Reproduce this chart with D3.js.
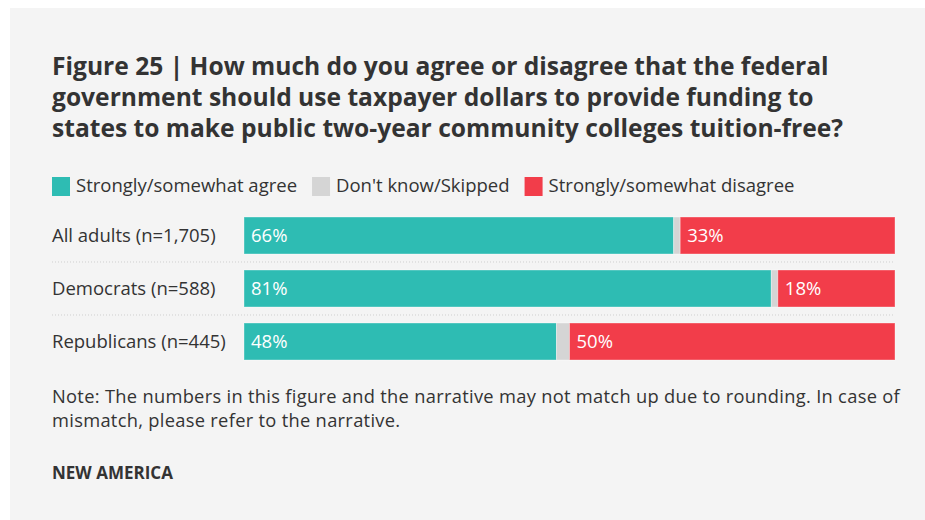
<!DOCTYPE html>
<html>
<head>
<meta charset="utf-8">
<script src="https://cdn.jsdelivr.net/npm/d3@7/dist/d3.min.js"></script>
<style>
  html, body { margin: 0; padding: 0; background: #ffffff; }
  svg { display: block; }
  text { font-family: "Open Sans", sans-serif; }
</style>
</head>
<body>
<svg id="chart" width="925" height="520"></svg>
<script>
// Survey results: share of respondents by response, per group
const groups = ["All adults (n=1,705)", "Democrats (n=588)", "Republicans (n=445)"];
const agree = [66, 81, 48];
const dontKnow = [1, 1, 2];
const disagree = [33, 18, 50];

const seriesKeys = ["agree", "dontKnow", "disagree"];
const seriesLabels = ["Strongly/somewhat agree", "Don't know/Skipped", "Strongly/somewhat disagree"];
const seriesColors = ["#2ebcb3", "#d5d5d5", "#f23d4a"];

const titleLines = [
  "Figure 25 | How much do you agree or disagree that the federal",
  "government should use taxpayer dollars to provide funding to",
  "states to make public two-year community colleges tuition-free?"
];
const noteLines = [
  "Note: The numbers in this figure and the narrative may not match up due to rounding. In case of",
  "mismatch, please refer to the narrative."
];
const sourceLabel = "NEW AMERICA";

const rows = groups.map((g, i) => ({ group: g, agree: agree[i], dontKnow: dontKnow[i], disagree: disagree[i] }));

const svg = d3.select("#chart");
const textColor = "#333333";

// panel background
svg.append("rect").attr("x", 10).attr("y", 8).attr("width", 915).attr("height", 512).attr("fill", "#f4f4f4");

// title
svg.append("g").selectAll("text").data(titleLines).join("text")
  .attr("x", 52).attr("y", (d, i) => 75 + i * 31)
  .attr("font-size", 24.6).attr("font-weight", 700).attr("fill", textColor)
  .text(d => d);

// legend
const legend = svg.append("g").attr("transform", "translate(52,177)");
let lx = 0;
seriesLabels.forEach((lab, i) => {
  const g = legend.append("g").attr("transform", `translate(${lx},0)`);
  g.append("rect").attr("width", 18).attr("height", 19).attr("fill", seriesColors[i]);
  const t = g.append("text").attr("x", 24).attr("y", 15).attr("font-size", 18.5).attr("fill", textColor).text(lab);
  lx += 24 + t.node().getComputedTextLength() + 15;
});

// scales
const x = d3.scaleLinear().domain([0, 100]).range([244, 895]);
const y = d3.scaleBand().domain(groups).range([217, 360]).paddingInner(0.302).paddingOuter(0);

const stack = d3.stack().keys(seriesKeys)(rows);

// row separators (dotted)
svg.append("g").selectAll("line").data(groups.slice(1)).join("line")
  .attr("x1", 52).attr("x2", 895)
  .attr("y1", d => y(d) - 8).attr("y2", d => y(d) - 8)
  .attr("stroke", "#cfcfcf").attr("stroke-width", 1).attr("stroke-dasharray", "1,2");

// bars
svg.append("g").selectAll("g").data(stack).join("g")
  .attr("fill", (d, i) => seriesColors[i])
  .selectAll("rect").data(d => d).join("rect")
  .attr("x", d => x(d[0]))
  .attr("y", d => y(d.data.group))
  .attr("width", d => x(d[1]) - x(d[0]))
  .attr("height", y.bandwidth())
  .attr("stroke", "#ffffff").attr("stroke-opacity", 0.35).attr("stroke-width", 1);

// value labels inside agree/disagree segments
stack.forEach((s, si) => {
  if (seriesKeys[si] === "dontKnow") return;
  svg.append("g").selectAll("text").data(s).join("text")
    .attr("x", d => x(d[0]) + 7)
    .attr("y", d => y(d.data.group) + y.bandwidth() / 2 + 6.5)
    .attr("font-size", 18.5).attr("fill", "#ffffff")
    .text(d => d.data[seriesKeys[si]] + "%");
});

// row labels
svg.append("g").selectAll("text").data(groups).join("text")
  .attr("x", 52).attr("y", d => y(d) + y.bandwidth() / 2 + 6.5)
  .attr("font-size", 18.5).attr("fill", textColor)
  .text(d => d);

// note
svg.append("g").selectAll("text").data(noteLines).join("text")
  .attr("x", 52).attr("y", (d, i) => 403 + i * 24)
  .attr("font-size", 18.3).attr("letter-spacing", 0.3).attr("fill", textColor)
  .text(d => d);

// source
svg.append("text").attr("x", 52).attr("y", 479)
  .attr("font-size", 17).attr("font-weight", 700).attr("fill", textColor)
  .text(sourceLabel);
</script>
</body>
</html>
